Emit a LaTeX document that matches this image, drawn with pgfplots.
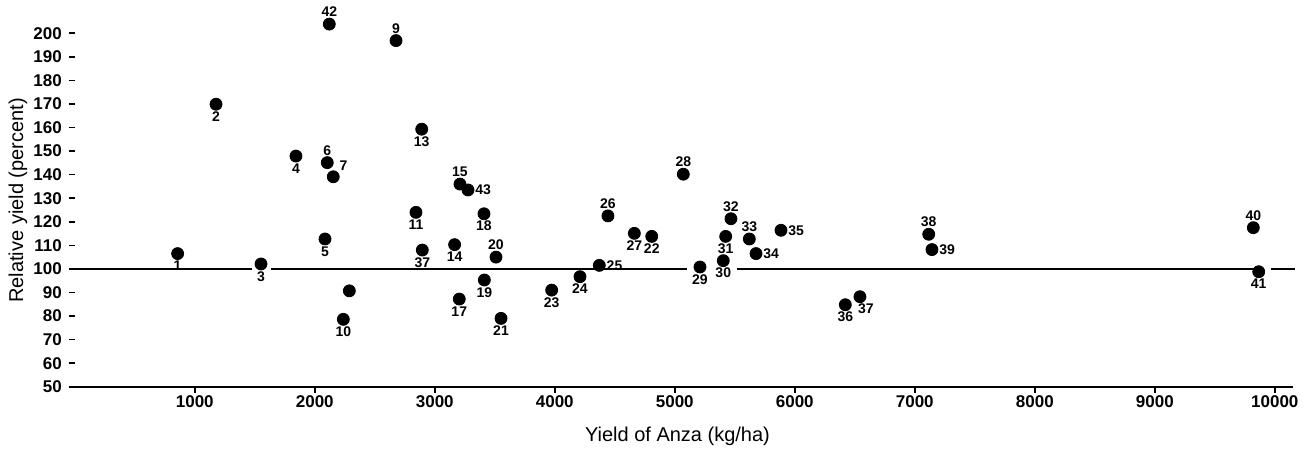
\documentclass[border=0pt]{standalone}
\usepackage{fontspec}
\setmainfont{Liberation Sans}
\usepackage{pgfplots}
\pgfplotsset{compat=1.18}
\usepackage{pgfplotstable}

% points whose number sits below the dot
\pgfplotstableread{
x y lab
857 106.5 1
1177 169.9 2
1552 102.1 3
1843 147.9 4
2085 112.7 5
2238 78.6 10
2843 124.0 11
2891 159.3 13
3165 110.3 14
3204 87.2 17
3410 123.4 18
3413 95.3 19
3552 79.0 21
4808 113.8 22
3974 91.0 23
4210 96.7 24
4663 115.1 27
5210 100.8 29
5404 103.5 30
5424 113.8 31
6421 84.8 36
2896 108.0 37
9866 98.8 41
}\below

% number above the dot
\pgfplotstableread{
x y lab
2104 145.1 6
2677 196.9 9
3210 136.0 15
3510 105.0 20
4443 122.5 26
5071 140.2 28
5468 121.3 32
5621 112.7 33
7116 114.7 38
9821 117.5 40
2121 203.9 42
}\above

% number to the right
\pgfplotstableread{
x y lab
4371 101.5 25
5677 106.5 34
5885 116.4 35
7143 108.2 39
3277 133.5 43
}\right

\begin{document}
\begin{tikzpicture}
\begin{axis}[
    scale only axis,
    width=609pt, height=182.6pt,
    xmin=0, xmax=10150,
    ymin=50, ymax=205,
    axis x line=bottom,
    axis y line=left,
    x axis line style={-, line width=0.9pt},
    y axis line style={draw=none},
    xtick={1000,2000,...,10000},
    ytick={50,60,...,200},
    tick align=outside,
    major tick length=3pt,
    tick style={line width=0.8pt, black},
    scaled x ticks=false,
    /pgf/number format/assume math mode=true,
    /pgf/number format/set thousands separator={},
    ticklabel style={font=\fontsize{8.5}{10}\selectfont\bfseries},
    xticklabel style={yshift=2pt},
    xlabel={Yield of Anza (kg/ha)},
    ylabel={Relative yield (percent)},
    label style={font=\fontsize{12}{14}\selectfont},
    every axis x label/.style={at={(rel axis cs:0.4948,-0.135)}, anchor=center},
    every axis y label/.style={at={(rel axis cs:-0.0466,0.51)}, anchor=center, rotate=90},
    clip=false,
    mark size=3pt,
    point meta=explicit symbolic,
    nodes near coords,
]
% 100 percent line, broken where numbers sit on it
\addplot[line width=1.4pt, black] coordinates {(0,100) (1474,100)};
\addplot[line width=1.4pt, black] coordinates {(1635,100) (5099,100)};
\addplot[line width=1.4pt, black] coordinates {(5516,100) (9902,100)};
\addplot[line width=1.4pt, black] coordinates {(9968,100) (10168,100)};

\addplot[only marks, mark=*, black,
    nodes near coords style={anchor=north, yshift=-3pt, inner sep=0.5pt,
        font=\fontsize{7}{8}\selectfont\bfseries}]
    table[x=x, y=y, meta=lab] {\below};
\addplot[only marks, mark=*, black,
    nodes near coords style={anchor=south, yshift=3pt, inner sep=0.5pt,
        font=\fontsize{7}{8}\selectfont\bfseries}]
    table[x=x, y=y, meta=lab] {\above};
\addplot[only marks, mark=*, black,
    nodes near coords style={anchor=west, xshift=3pt, inner sep=0.5pt,
        font=\fontsize{7}{8}\selectfont\bfseries}]
    table[x=x, y=y, meta=lab] {\right};
\addplot[only marks, mark=*, black,
    nodes near coords style={anchor=south west, xshift=2.5pt, yshift=2.5pt, inner sep=0.5pt,
        font=\fontsize{7}{8}\selectfont\bfseries}]
    coordinates {(2154,139.1) [7]};
\addplot[only marks, mark=*, black,
    nodes near coords style={anchor=north, xshift=3pt, yshift=-3pt, inner sep=0.5pt,
        font=\fontsize{7}{8}\selectfont\bfseries}]
    coordinates {(6543,88.2) [37]};
\addplot[only marks, mark=*, black, nodes near coords={}]
    coordinates {(2288,90.7) []};

\coordinate (bbsw) at (rel axis cs:-0.0614,-0.176);
\coordinate (bbne) at (rel axis cs:1.0133,1.0589);
\end{axis}
\pgfresetboundingbox
\path[use as bounding box] (bbsw) rectangle (bbne);
\end{tikzpicture}
\end{document}
